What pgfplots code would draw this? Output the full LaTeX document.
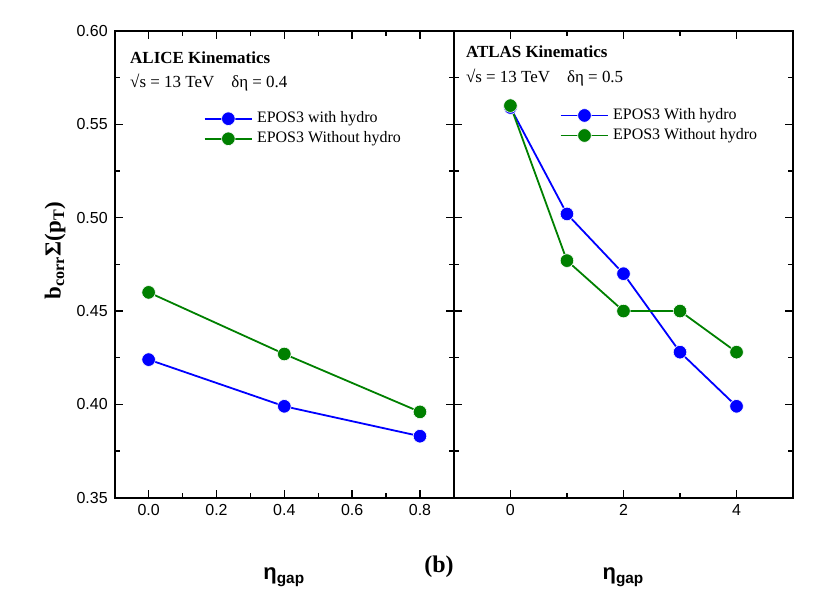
\documentclass[border=0pt]{standalone}
\usepackage{fontspec}
\setmainfont{Liberation Serif}
\newfontfamily\arialfont{Liberation Sans}
\usepackage{pgfplots}
\pgfplotsset{compat=1.18}

\definecolor{eblue}{RGB}{0,0,255}
\definecolor{egreen}{RGB}{0,128,0}

\pgfplotsset{
  panel/.style={
    width=170pt, height=234pt, scale only axis,
    ymin=0.35, ymax=0.60,
    ytick={0.35,0.40,0.45,0.50,0.55,0.60},
    minor y tick num=1,
    tick align=inside,
    major tick length=4pt, minor tick length=2.5pt,
    axis line style={line width=0.9pt},
    every tick/.style={black, line width=0.7pt},
    tick label style={font=\arialfont\fontsize{8}{9}\selectfont},
    /pgf/number format/assume math mode=true,
    xlabel={\arialfont\bfseries\fontsize{11}{12}\selectfont η\textsubscript{gap}},
    xlabel style={at={(axis description cs:0.5,-0.17)}, anchor=center},
    legend style={draw=none, fill=none, font=\fontsize{8}{10}\selectfont,
      row sep=-1pt, inner xsep=1pt},
    legend cell align=left,
    legend image code/.code={%
      \draw[##1, mark=none] (0cm,0cm) -- (0.84cm,0cm);
      \draw[##1, draw=none] plot coordinates {(0.42cm,0cm)};},
  },
  eb/.style={draw=eblue, line width=0.9pt, mark=*, mark size=3.4pt,
    mark options={fill=eblue, draw=white, line width=0.3pt}},
  eg/.style={draw=egreen, line width=0.9pt, mark=*, mark size=3.4pt,
    mark options={fill=egreen, draw=white, line width=0.3pt}},
}

\begin{document}
\begin{tikzpicture}
\path[use as bounding box] (-57.5pt,-45.5pt) rectangle (358.5pt,249.5pt);

% ALICE panel
\begin{axis}[panel, name=left, at={(0pt,0pt)}, anchor=south west,
    xmin=-0.1, xmax=0.9,
    xtick={0,0.2,0.4,0.6,0.8},
    minor xtick={0.1,0.3,0.5,0.7},
    xticklabel style={/pgf/number format/.cd, fixed, fixed zerofill, precision=1},
    yticklabel style={/pgf/number format/.cd, fixed, fixed zerofill, precision=2},
    ylabel={\bfseries\fontsize{11.5}{13}\selectfont b\textsubscript{corr}Σ(p\textsubscript{T})},
    ylabel style={at={(axis description cs:-0.176,0.53)}, anchor=center},
    legend style={at={(0.255,0.845)}, anchor=north west},
]
\addplot[eb] coordinates {(0,0.424) (0.4,0.399) (0.8,0.383)};
\addlegendentry{EPOS3 with hydro}
\addplot[eg] coordinates {(0,0.460) (0.4,0.427) (0.8,0.396)};
\addlegendentry{EPOS3 Without hydro}
\node[anchor=west, font=\bfseries\fontsize{8.5}{10}\selectfont]
  at (rel axis cs:0.025,0.942) {ALICE Kinematics};
\node[anchor=west, font=\fontsize{8.5}{10}\selectfont]
  at (rel axis cs:0.025,0.889) {√s = 13 TeV\quad δη = 0.4};
\end{axis}

% ATLAS panel
\begin{axis}[panel, name=right, at={(170pt,0pt)}, anchor=south west,
    xmin=-1, xmax=5,
    xtick={0,2,4},
    minor xtick={1,3},
    yticklabel=\empty,
    legend style={at={(0.305,0.852)}, anchor=north west},
]
\addplot[eb] coordinates {(0,0.559) (1,0.502) (2,0.470) (3,0.428) (4,0.399)};
\addlegendentry{EPOS3 With hydro}
\addplot[eg] coordinates {(0,0.560) (1,0.477) (2,0.450) (3,0.450) (4,0.428)};
\addlegendentry{EPOS3 Without hydro}
\node[anchor=west, font=\bfseries\fontsize{8.5}{10}\selectfont]
  at (rel axis cs:0.015,0.955) {ATLAS Kinematics};
\node[anchor=west, font=\fontsize{8.5}{10}\selectfont]
  at (rel axis cs:0.015,0.900) {√s = 13 TeV\quad δη = 0.5};
\end{axis}

\node[font=\bfseries\fontsize{12}{14}\selectfont] at (162.5pt,-34.5pt) {(b)};
\end{tikzpicture}
\end{document}
